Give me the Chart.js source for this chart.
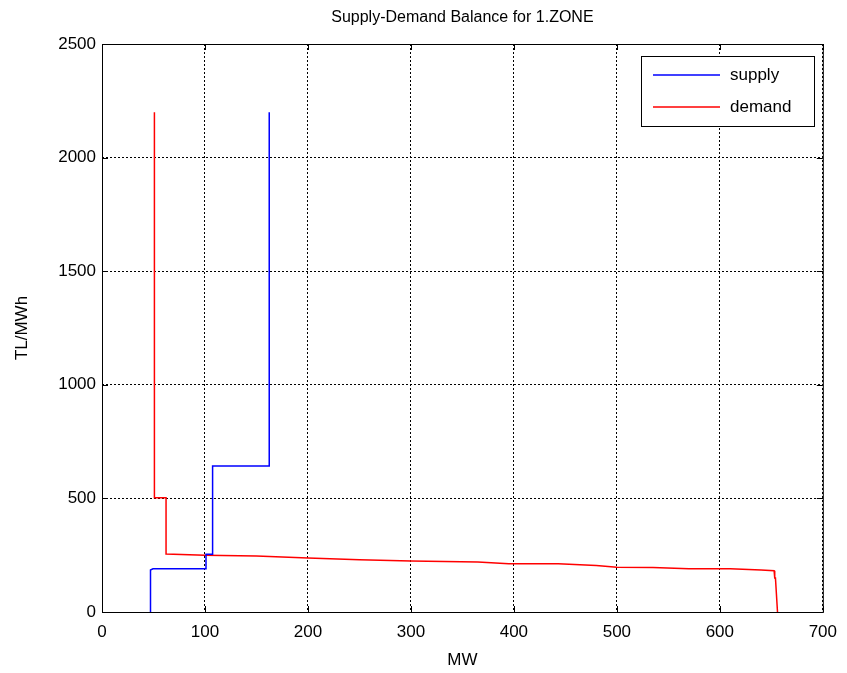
<!DOCTYPE html>
<html>
<head>
<meta charset="utf-8">
<script src="https://cdn.jsdelivr.net/npm/chart.js@4"></script>
<style>
  html, body { margin: 0; padding: 0; background: #fff; }
  #wrap { width: 847px; height: 673px; }
</style>
</head>
<body>
<div id="wrap"><canvas id="balanceChart" width="847" height="673"></canvas></div>
<script>
// supply curve (MW, TL/MWh)
var supplyMW    = [46.7, 46.7, 47.5, 49.5, 101, 101, 107.4, 107.4, 162.4, 162.4];
var supplyPrice = [0, 170, 185, 190, 190, 254, 254, 643, 643, 2200];

// demand curve (MW, TL/MWh)
var demandMW    = [50.9, 50.9, 62.2, 62.2, 100, 150, 200, 250, 300, 365, 395, 443, 480, 500, 535, 570, 610, 640, 652.7, 653.3, 654, 656];
var demandPrice = [2200, 503, 503, 255, 250, 246, 238, 230, 224, 220, 212, 212, 205, 197, 196, 190, 190, 185, 182, 150, 150, 0];

var xTicks = [0, 100, 200, 300, 400, 500, 600, 700];
var yTicks = [0, 500, 1000, 1500, 2000, 2500];

var seriesColors = ['rgb(0, 0, 255)', 'rgb(255, 0, 0)'];

var toPoints = function(xs, ys) {
    return xs.map(function(x, i) { return { x: x, y: ys[i] }; });
};

var FONT = 'Liberation Sans, Arial, sans-serif';

// MATLAB-like frame: box, inward ticks, title and legend with a border
var matlabFrame = {
    id: 'matlabFrame',
    afterDraw: function(chart) {
        var c = chart.ctx, a = chart.chartArea;
        var sx = chart.scales.x, sy = chart.scales.y;
        c.save();
        c.strokeStyle = '#000';
        c.lineWidth = 1;
        c.strokeRect(a.left + 0.5, a.top + 0.5, a.right - a.left, a.bottom - a.top);
        c.beginPath();
        xTicks.forEach(function(v) {
            var px = Math.round(sx.getPixelForValue(v)) + 0.5;
            c.moveTo(px, a.bottom); c.lineTo(px, a.bottom - 6);
            c.moveTo(px, a.top); c.lineTo(px, a.top + 6);
        });
        yTicks.forEach(function(v) {
            var py = Math.round(sy.getPixelForValue(v)) + 0.5;
            c.moveTo(a.left, py); c.lineTo(a.left + 6, py);
            c.moveTo(a.right, py); c.lineTo(a.right - 6, py);
        });
        c.stroke();

        // title
        c.fillStyle = '#000';
        c.font = '16px ' + FONT;
        c.textAlign = 'center';
        c.textBaseline = 'middle';
        c.fillText('Supply-Demand Balance for 1.ZONE', (a.left + a.right) / 2, 18);

        // legend
        var lx = 641, ly = 56, lw = 173, lh = 70;
        c.fillStyle = '#fff';
        c.fillRect(lx, ly, lw, lh);
        c.strokeStyle = '#000';
        c.lineWidth = 1;
        c.strokeRect(lx + 0.5, ly + 0.5, lw, lh);
        c.font = '17px ' + FONT;
        c.textAlign = 'left';
        chart.data.datasets.forEach(function(ds, i) {
            var yy = ly + 19 + i * 32;
            c.strokeStyle = seriesColors[i];
            c.lineWidth = 1.5;
            c.beginPath();
            c.moveTo(lx + 12, yy); c.lineTo(lx + 79, yy);
            c.stroke();
            c.fillStyle = '#000';
            c.fillText(ds.label, lx + 89, yy);
        });
        c.restore();
    }
};

var ctx = document.getElementById('balanceChart').getContext('2d');
var myChart = new Chart(ctx, {
    type: 'line',
    data: {
        datasets: [{
            label: 'supply',
            data: toPoints(supplyMW, supplyPrice),
            borderColor: seriesColors[0],
            borderWidth: 1.5,
            pointRadius: 0,
            tension: 0,
            fill: false
        }, {
            label: 'demand',
            data: toPoints(demandMW, demandPrice),
            borderColor: seriesColors[1],
            borderWidth: 1.5,
            pointRadius: 0,
            tension: 0,
            fill: false
        }]
    },
    options: {
        responsive: false,
        animation: false,
        layout: { padding: { top: 44, right: 21, left: 0, bottom: 0 } },
        plugins: {
            legend: { display: false },
            title: { display: false },
            tooltip: { enabled: false }
        },
        scales: {
            x: {
                type: 'linear',
                min: 0,
                max: 700,
                afterFit: function(scale) { scale.height = 61; },
                afterBuildTicks: function(scale) { scale.ticks = xTicks.map(function(v) { return { value: v }; }); },
                grid: { color: '#000', lineWidth: 1, drawTicks: false },
                border: { display: false, dash: [2, 2] },
                ticks: { color: '#000', font: { family: FONT, size: 17 }, padding: 10, maxRotation: 0,
                         callback: function(v) { return String(v); } },
                title: { display: true, text: 'MW', color: '#000', font: { family: FONT, size: 17 }, padding: { top: 0, bottom: 2 } }
            },
            y: {
                min: 0,
                max: 2500,
                afterFit: function(scale) { scale.width = 102; },
                afterBuildTicks: function(scale) { scale.ticks = yTicks.map(function(v) { return { value: v }; }); },
                grid: { color: '#000', lineWidth: 1, drawTicks: false },
                border: { display: false, dash: [2, 2] },
                ticks: { color: '#000', font: { family: FONT, size: 17 }, padding: 6,
                         callback: function(v) { return String(v); } },
                title: { display: true, text: 'TL/MWh', color: '#000', font: { family: FONT, size: 17 }, padding: { top: 12, bottom: 0 } }
            }
        }
    },
    plugins: [matlabFrame]
});
</script>
</body>
</html>
